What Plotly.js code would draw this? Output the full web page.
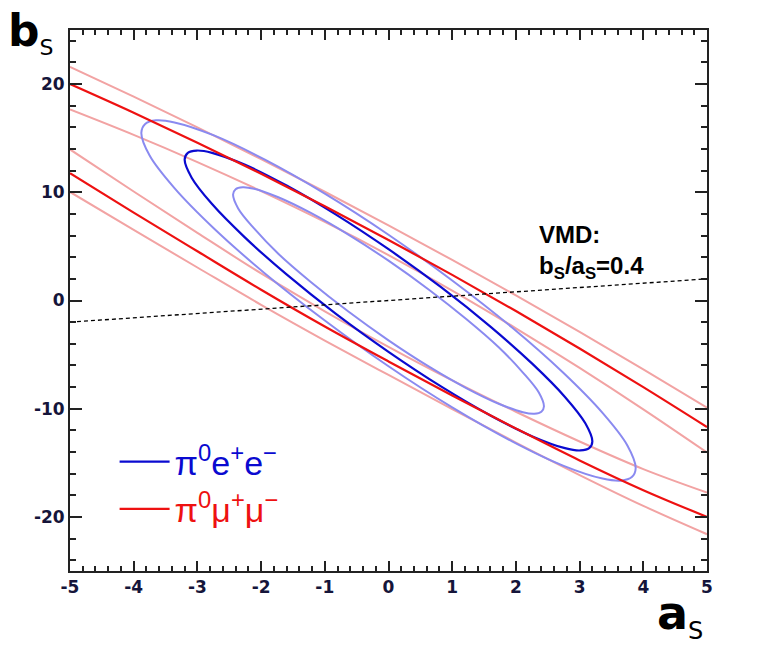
<!DOCTYPE html>
<html>
<head>
<meta charset="utf-8">
<script src="https://cdn.plot.ly/plotly-3.0.1.min.js"></script>
<style>html,body{margin:0;padding:0;background:#fff;}#chart{width:759px;height:646px;}</style>
</head>
<body>
<div id="chart"></div>
<script>
// ---- data ----
const aGrid = [-5,-4,-3,-2,-1,0,1,2,3,4,5];
// pi0 mu+ mu- bands (upper and lower branch): central and +-1 sigma
const muUpperCentral = [20.0,17.35,14.59,11.71,8.71,5.60,2.37,-0.97,-4.43,-8.01,-11.7];
const muUpperOuter   = [21.6,18.84,16.0,13.07,10.05,6.94,3.75,0.47,-2.9,-6.36,-9.9];
const muUpperInner   = [17.65,15.3,12.79,10.11,7.26,4.2,0.92,-2.57,-6.23,-10.06,-14.05];
const muLowerCentral = [11.76,8.12,4.55,1.0,-2.4,-5.63,-8.78,-11.83,-14.78,-17.53,-20.0];
const muLowerOuter   = [10.03,6.52,3.05,-0.4,-3.7,-6.88,-10.03,-13.13,-16.13,-18.98,-21.6];
const muLowerInner   = [13.96,10.07,6.25,2.5,-1.0,-4.28,-7.38,-10.28,-13.03,-15.58,-17.75];
// pi0 e+ e- contours
const eeCentralA = [3.2,3.15,3.01,2.77,2.26,1.6,0.83,0,-0.83,-1.6,-2.26,-2.77,-3.09,-3.2,-3.15,-3.01,-2.77,-2.26,-1.6,-0.83,0,0.83,1.6,2.26,2.77,3.09,3.2];
const eeCentralB = [-13.03,-13.65,-13.86,-13.65,-12.56,-10.62,-7.96,-4.74,-1.21,2.41,5.86,8.91,11.35,13.03,13.65,13.86,13.65,12.56,10.62,7.96,4.74,1.21,-2.41,-5.86,-8.91,-11.35,-13.03];
const eeOuterA = [3.88,3.82,3.65,3.36,2.74,1.94,1.0,0,-1.0,-1.94,-2.74,-3.36,-3.75,-3.88,-3.82,-3.65,-3.36,-2.74,-1.94,-1.0,0,1.0,1.94,2.74,3.36,3.75,3.88];
const eeOuterB = [-15.50,-16.32,-16.65,-16.46,-15.26,-13.02,-9.88,-6.08,-1.85,2.50,6.66,10.39,13.40,15.50,16.32,16.65,16.46,15.26,13.02,9.88,6.08,1.85,-2.50,-6.66,-10.39,-13.40,-15.50];
const eeInnerA = [2.44,2.40,2.29,2.11,1.73,1.22,0.63,0,-0.63,-1.22,-1.73,-2.11,-2.36,-2.44,-2.40,-2.29,-2.11,-1.73,-1.22,-0.63,0,0.63,1.22,1.73,2.11,2.36,2.44];
const eeInnerB = [-9.80,-10.29,-10.47,-10.33,-9.54,-8.09,-6.09,-3.68,-1.02,1.71,4.32,6.66,8.51,9.80,10.29,10.47,10.33,9.54,8.09,6.09,3.68,1.02,-1.71,-4.32,-6.66,-8.51,-9.80];
// VMD prediction b_S/a_S = 0.4
const vmdA = [-5, 5];
const vmdB = [-2, 2];
// ticks
const xTickVals = [-5,-4,-3,-2,-1,0,1,2,3,4,5];
const xTickText = ['-5','-4','-3','-2','-1','0','1','2','3','4','5'];
const yTickVals = [-20,-10,0,10,20];
const yTickText = ['-20','-10','0','10','20'];
const yMinorVals = [-24,-22,-18,-16,-14,-12,-8,-6,-4,-2,2,4,6,8,12,14,16,18,22,24];

const RED = '#ee1111', LRED = '#f2a3a3', BLUE = '#0a0ad0', LBLUE = '#8a8af0';

function band(y, color, w, name, show) {
  return {x: aGrid, y: y, mode: 'lines', type: 'scatter', name: name, showlegend: show,
    line: {color: color, width: w, shape: 'spline', smoothing: 1}, hoverinfo: 'skip'};
}
function loop(x, y, color, w, name, show) {
  return {x: x, y: y, mode: 'lines', type: 'scatter', name: name, showlegend: show,
    line: {color: color, width: w, shape: 'spline', smoothing: 1}, hoverinfo: 'skip'};
}

const eeName = '<span style="color:#0a0ad0">π<sup>0</sup>e<sup>+</sup>e<sup>−</sup></span>';
const muName = '<span style="color:#ee1111">π<sup>0</sup>μ<sup>+</sup>μ<sup>−</sup></span>';

const traces = [
  band(muUpperOuter, LRED, 2, 'mu', false),
  band(muUpperInner, LRED, 2, 'mu', false),
  band(muLowerOuter, LRED, 2, 'mu', false),
  band(muLowerInner, LRED, 2, 'mu', false),
  loop(eeOuterA, eeOuterB, LBLUE, 2, 'ee', false),
  loop(eeInnerA, eeInnerB, LBLUE, 2, 'ee', false),
  loop(eeCentralA, eeCentralB, BLUE, 2.2, eeName, true),
  band(muUpperCentral, RED, 2.2, muName, true),
  band(muLowerCentral, RED, 2.2, 'mu', false),
  {x: vmdA, y: vmdB, mode: 'lines', type: 'scatter', showlegend: false, name: 'VMD',
   line: {color: '#000', width: 1.3, dash: '4px,3px'}, hoverinfo: 'skip'}
];

const tickFont = {family: 'DejaVu Sans, Arial, sans-serif', size: 17, color: '#15153a', weight: 'bold'};
const axisCommon = {
  showgrid: false, zeroline: false, showline: true, linecolor: '#222', linewidth: 2,
  mirror: 'allticks', ticks: 'inside', tickcolor: '#222', tickwidth: 2, tickfont: tickFont
};

const layout = {
  width: 759, height: 646,
  margin: {l: 70, r: 52, t: 30, b: 75},
  paper_bgcolor: '#ffffff', plot_bgcolor: '#ffffff',
  showlegend: true,
  legend: {x: 0.07, y: 0.255, xanchor: 'left', yanchor: 'top', bgcolor: 'rgba(0,0,0,0)',
    font: {family: 'Liberation Sans, Arial, sans-serif', size: 34}, itemwidth: 50, tracegroupgap: 0,
    traceorder: 'normal'},
  xaxis: Object.assign({}, axisCommon, {range: [-5, 5], tickvals: xTickVals, ticktext: xTickText,
    ticklen: 10, minor: {dtick: 0.2, ticklen: 5, ticks: 'inside', tickcolor: '#222', tickwidth: 2}}),
  yaxis: Object.assign({}, axisCommon, {range: [-25, 25], tickvals: yTickVals, ticktext: yTickText,
    ticklen: 12, minor: {tickvals: yMinorVals, ticklen: 6, ticks: 'inside', tickcolor: '#222', tickwidth: 2}}),
  annotations: [
    {xref: 'paper', yref: 'paper', x: -0.1, y: 1.05, xanchor: 'left', yanchor: 'top', showarrow: false,
     text: 'b<sub><span style="font-size:22px;font-weight:normal">S</span></sub>',
     font: {family: 'DejaVu Sans, Arial, sans-serif', size: 44, color: '#000', weight: 'bold'}},
    {xref: 'paper', yref: 'paper', x: 0.918, y: -0.14, xanchor: 'left', yanchor: 'bottom', showarrow: false,
     text: 'a<sub><span style="font-size:24px;font-weight:normal">S</span></sub>',
     font: {family: 'DejaVu Sans, Arial, sans-serif', size: 46, color: '#000', weight: 'bold'}},
    {xref: 'x', yref: 'y', x: 2.33, y: 7.5, xanchor: 'left', yanchor: 'top', showarrow: false, align: 'left',
     text: 'VMD:<br>b<sub>S</sub>/a<sub>S</sub>=0.4',
     font: {family: 'Liberation Sans, Arial, sans-serif', size: 24, color: '#000', weight: 'bold'}}
  ]
};

Plotly.newPlot('chart', traces, layout, {displayModeBar: false, staticPlot: true});
</script>
</body>
</html>
